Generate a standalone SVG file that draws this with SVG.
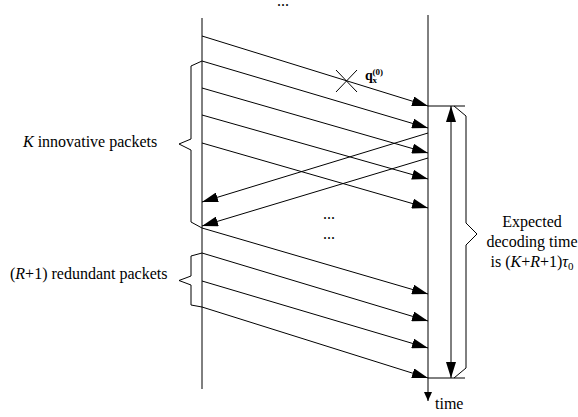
<svg xmlns="http://www.w3.org/2000/svg" width="578" height="417" viewBox="0 0 578 417">
  <style>
    .ln { stroke: #000; stroke-width: 1; fill: none; }
    .pk { stroke: #000; stroke-width: 1; fill: none; marker-end: url(#head); }
    .tx { font-family: "Liberation Serif", "Times New Roman", serif; font-size: 16px; fill: #000; }
    .it { font-style: italic; }
    .qb { font-family: "Liberation Serif", "Times New Roman", serif; font-weight: bold; font-size: 14px; fill: #000; }
    .qs { font-size: 9px; }
    .sub { font-size: 11px; }
  </style>
  <defs>
    <marker id="head" viewBox="0 0 16 10" refX="16" refY="5" markerWidth="16" markerHeight="10" markerUnits="userSpaceOnUse" orient="auto">
      <path d="M0,0 L16,5 L0,10 z" fill="#000"/>
    </marker>
    <marker id="dhead" viewBox="0 0 16 10" refX="16" refY="5" markerWidth="16" markerHeight="10" markerUnits="userSpaceOnUse" orient="auto-start-reverse">
      <path d="M0,0 L16,5 L0,10 z" fill="#000"/>
    </marker>
    <marker id="thead" viewBox="0 0 9 8" refX="9" refY="4" markerWidth="9" markerHeight="8" markerUnits="userSpaceOnUse" orient="auto">
      <path d="M0,0 L9,4 L0,8 z" fill="#000"/>
    </marker>
  </defs>
  <rect width="578" height="417" fill="#fff"/>

  <!-- sender and receiver time lines -->
  <g id="sender">
    <line class="ln" x1="202" y1="18" x2="202" y2="389"/>
  </g>
  <g id="receiver">
    <line class="ln" x1="428" y1="15" x2="428" y2="401" marker-end="url(#thead)"/>
    <text class="tx" x="435" y="409">time</text>
  </g>
  <text class="tx" x="277" y="6">...</text>

  <!-- packet transmissions -->
  <g id="connectors">
    <line class="pk" x1="202" y1="36" x2="428" y2="106"/>
    <line class="pk" x1="202" y1="61" x2="428" y2="128"/>
    <line class="pk" x1="202" y1="88" x2="428" y2="153"/>
    <line class="pk" x1="202" y1="115" x2="428" y2="179"/>
    <line class="pk" x1="202" y1="143" x2="428" y2="208"/>
    <line class="pk" x1="428" y1="133" x2="202" y2="202"/>
    <line class="pk" x1="428" y1="158" x2="202" y2="226"/>
    <line class="pk" x1="202" y1="228" x2="428" y2="294"/>
    <line class="pk" x1="202" y1="253" x2="428" y2="321"/>
    <line class="pk" x1="202" y1="281" x2="428" y2="348"/>
    <line class="pk" x1="202" y1="307" x2="428" y2="378"/>
  </g>

  <!-- lost packet -->
  <g id="loss">
    <line class="ln" x1="336" y1="70" x2="357" y2="92"/>
    <line class="ln" x1="336" y1="92" x2="357" y2="70"/>
    <text class="qb" x="365" y="80">q<tspan class="qs" x="372.5" y="83">x</tspan><tspan class="qs" x="372.5" y="75">(0)</tspan></text>
  </g>

  <text class="tx" x="323" y="219">...</text>
  <text class="tx" x="323" y="239">...</text>

  <!-- innovative packets -->
  <g id="innovative">
    <path class="ln" d="M202,61 L191,66 L191,139 L179,144 L191,150 L191,222 L202,228"/>
    <text class="tx" x="23" y="147"><tspan class="it">K</tspan> innovative packets</text>
  </g>

  <!-- redundant packets -->
  <g id="redundant">
    <path class="ln" d="M202,253 L191,256 L191,276 L179,280.5 L191,285 L191,305 L202,307"/>
    <text class="tx" x="10" y="279">(<tspan class="it">R</tspan>+1) redundant packets</text>
  </g>

  <!-- decoding time span -->
  <g id="decoding">
    <line class="ln" x1="428" y1="106" x2="465" y2="106"/>
    <line class="ln" x1="428" y1="378" x2="465" y2="378"/>
    <line class="ln" x1="451" y1="106" x2="451" y2="378" marker-start="url(#dhead)" marker-end="url(#dhead)"/>
    <path class="ln" d="M454,106 L466,116 L466,223 L477,234 L466,245 L466,368 L454,378"/>
    <text class="tx" x="532" y="227" text-anchor="middle">Expected</text>
    <text class="tx" x="532" y="247" text-anchor="middle">decoding time</text>
    <text class="tx" x="532" y="267" text-anchor="middle">is (<tspan class="it">K</tspan>+<tspan class="it">R</tspan>+1)<tspan class="it">τ</tspan><tspan class="sub" dy="3">0</tspan></text>
  </g>
</svg>
